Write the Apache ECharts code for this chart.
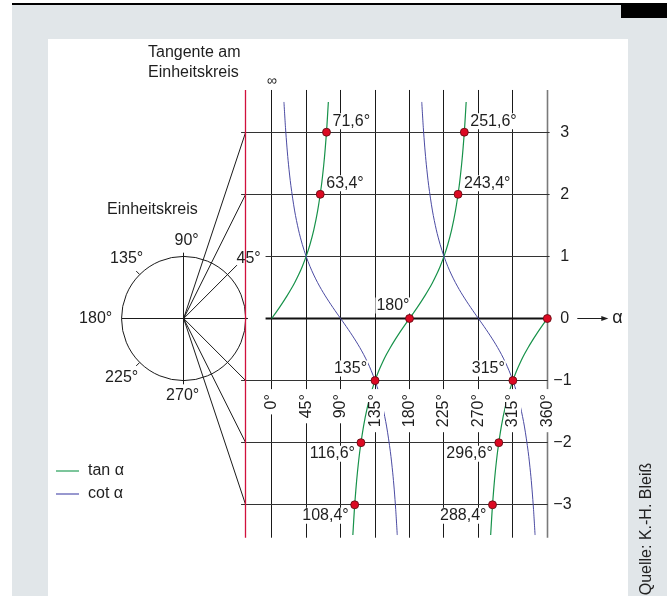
<!DOCTYPE html>
<html>
<head>
<meta charset="utf-8">
<script src="https://cdn.jsdelivr.net/npm/echarts@6/dist/echarts.min.js"></script>
<style>
html, body { margin: 0; padding: 0; background: #fff; }
#chart { width: 667px; height: 596px; }
</style>
</head>
<body>
<div id="chart"></div>
<script>
// Winkel der senkrechten Linien und Beschriftung
const angleTicks = [0, 45, 90, 135, 180, 225, 270, 315, 360];
const angleTickLabels = ['0°', '45°', '90°', '135°', '180°', '225°', '270°', '315°', '360°'];
// Funktionswerte (waagrechte Linien)
const levels = [3, 2, 1, 0, -1, -2, -3];
const levelLabels = ['3', '2', '1', '0', '−1', '−2', '−3'];
// markierte Punkte
const markAngles = [71.6, 251.6, 63.4, 243.4, 180, 360, 135, 315, 116.6, 296.6, 108.4, 288.4];
const markValues = [3, 3, 2, 2, 0, 0, -1, -1, -2, -2, -3, -3];
const markLabels = ['71,6°', '251,6°', '63,4°', '243,4°', '180°', '', '135°', '315°', '116,6°', '296,6°', '108,4°', '288,4°'];
// Einheitskreis
const circleAngles = [90, 135, 180, 225, 270, 45];
const circleLabels = ['90°', '135°', '180°', '225°', '270°', '45°'];

// Kurven
const tanBranch1 = [[0,0],[5,0.087],[10,0.176],[15,0.268],[20,0.364],[25,0.466],[30,0.577],[35,0.7],[40,0.839],[45,1],[50,1.192],[55,1.428],[60,1.732],[65,2.145],[68,2.475],[70,2.747],[72,3.078],[74,3.487]];
const tanBranch2 = [[106,-3.487],[108,-3.078],[110,-2.747],[112,-2.475],[115,-2.145],[120,-1.732],[125,-1.428],[130,-1.192],[135,-1],[140,-0.839],[145,-0.7],[150,-0.577],[155,-0.466],[160,-0.364],[165,-0.268],[170,-0.176],[175,-0.087],[180,0],[185,0.087],[190,0.176],[195,0.268],[200,0.364],[205,0.466],[210,0.577],[215,0.7],[220,0.839],[225,1],[230,1.192],[235,1.428],[240,1.732],[245,2.145],[248,2.475],[250,2.747],[252,3.078],[254,3.487]];
const tanBranch3 = [[286,-3.487],[288,-3.078],[290,-2.747],[292,-2.475],[295,-2.145],[300,-1.732],[305,-1.428],[310,-1.192],[315,-1],[320,-0.839],[325,-0.7],[330,-0.577],[335,-0.466],[340,-0.364],[345,-0.268],[350,-0.176],[355,-0.087],[360,0]];
const cotBranch1 = [[16,3.487],[18,3.078],[20,2.747],[22,2.475],[25,2.145],[30,1.732],[35,1.428],[40,1.192],[45,1],[50,0.839],[55,0.7],[60,0.577],[65,0.466],[70,0.364],[75,0.268],[80,0.176],[85,0.087],[90,0],[95,-0.087],[100,-0.176],[105,-0.268],[110,-0.364],[115,-0.466],[120,-0.577],[125,-0.7],[130,-0.839],[135,-1],[140,-1.192],[145,-1.428],[150,-1.732],[155,-2.145],[158,-2.475],[160,-2.747],[162,-3.078],[164,-3.487]];
const cotBranch2 = [[196,3.487],[198,3.078],[200,2.747],[202,2.475],[205,2.145],[210,1.732],[215,1.428],[220,1.192],[225,1],[230,0.839],[235,0.7],[240,0.577],[245,0.466],[250,0.364],[255,0.268],[260,0.176],[265,0.087],[270,0],[275,-0.087],[280,-0.176],[285,-0.268],[290,-0.364],[295,-0.466],[300,-0.577],[305,-0.7],[310,-0.839],[315,-1],[320,-1.192],[325,-1.428],[330,-1.732],[335,-2.145],[338,-2.475],[340,-2.747],[342,-3.078],[344,-3.487]];

const chart = echarts.init(document.getElementById('chart'));

const FONT = '"Liberation Sans", Arial, sans-serif';
const INK = '#1e1e1e';
const TAN_COLOR = '#17924a';
const COT_COLOR = '#4b4ba3';
const Y_TOP = 3.68, Y_BOT = -3.53;  // Enden der senkrechten Linien
const CX = -115;                     // Mittelpunkt des Einheitskreises
const TX = -34;                      // Tangente (CX + Radius)
const H_START = -40;

// Pixel auf halbe Pixel legen, damit 1px-Linien scharf bleiben
function snap(v) { return Math.round(v - 0.5) + 0.5; }

function segmentSeries(segs, stroke, width, z) {
    return {
        type: 'custom',
        silent: true,
        z: z,
        data: segs,
        renderItem: function (params, api) {
            const s = segs[params.dataIndex];
            const p1 = api.coord([s[0], s[1]]);
            const p2 = api.coord([s[2], s[3]]);
            if (p1[0] === p2[0]) { p1[0] = p2[0] = snap(p1[0]); }
            if (p1[1] === p2[1]) { p1[1] = p2[1] = snap(p1[1]); }
            return {
                type: 'line',
                shape: {x1: p1[0], y1: p1[1], x2: p2[0], y2: p2[1]},
                style: {stroke: stroke, lineWidth: width}
            };
        }
    };
}

function textSeries(items, z, build) {
    return {
        type: 'custom',
        silent: true,
        z: z,
        data: items,
        renderItem: function (params, api) {
            return build(params.dataIndex, api);
        }
    };
}

// senkrechte Linien
const verticalSegs = angleTicks.filter(a => a !== 360).map(a => [a, Y_TOP, a, Y_BOT]);
// waagrechte Linien
const levelSegs = [];
levels.forEach(l => {
    if (l === 0) return;
    const start = l === 1 ? -8 : H_START;
    const end = l < 0 ? 360.5 : 363;
    levelSegs.push([start, l, end, l]);
});
// Strahlen vom Kreismittelpunkt zur Tangente
const raySegs = levels.filter(l => l !== 0).map(l => {
    const f = l === 1 ? 0.86 : 1;
    return [CX, 0, CX + (TX - CX) * f, l * f];
});
raySegs.push([2 * CX - TX, 0, TX + 3, 0]);
raySegs.push([CX, 1.06, CX, -1.06]);

const markData = markAngles.map((a, i) => {
    const v = markValues[i];
    let pos;
    if (v > 0) pos = {align: 'left', offset: [5, -11]};
    else if (v === 0) pos = {align: 'right', offset: [1, -13]};
    else if (v === -1) pos = {align: 'right', offset: [-7, -12]};
    else pos = {align: 'right', offset: [-5, 11]};
    return {
        value: [a, v],
        label: Object.assign({show: markLabels[i] !== '', formatter: markLabels[i]}, pos)
    };
});

const circleLabelOffsets = {
    90: [3, -78], 135: [-57, -60], 180: [-88, 0], 225: [-62, 59], 270: [-1, 77], 45: [65, -60]
};

const option = {
    backgroundColor: '#fff',
    animation: false,
    textStyle: {fontFamily: FONT},
    grid: {left: 42, right: 27.8, top: 39.05, bottom: 29.1},
    xAxis: {type: 'value', min: -300, max: 480, show: false},
    yAxis: {type: 'value', min: -4, max: 4.5, show: false},
    legend: {
        orient: 'vertical',
        left: 56,
        top: 463,
        padding: 0,
        icon: 'rect',
        itemWidth: 23,
        itemHeight: 2,
        itemGap: 7,
        selectedMode: false,
        textStyle: {fontSize: 16, color: INK, fontFamily: FONT, padding: [0, 0, 0, 4]},
        data: [
            {name: 'tan α', itemStyle: {color: '#7cc59b'}},
            {name: 'cot α', itemStyle: {color: '#9898cf'}}
        ]
    },
    graphic: [
        {type: 'rect', z: -5, silent: true, shape: {x: 12, y: 5, width: 655, height: 591}, style: {fill: '#e1e6e9'}},
        {type: 'rect', z: -4, silent: true, shape: {x: 48, y: 39, width: 580, height: 557}, style: {fill: '#fff'}},
        {type: 'rect', z: -4, silent: true, shape: {x: 12, y: 3, width: 655, height: 2}, style: {fill: '#000'}},
        {type: 'rect', z: -4, silent: true, shape: {x: 621, y: 5, width: 46, height: 13}, style: {fill: '#000'}},
        {type: 'text', z: 10, silent: true, x: 148, y: 43,
            style: {text: 'Tangente am\nEinheitskreis', font: '16px ' + FONT, fill: INK, lineHeight: 20}},
        {type: 'text', z: 10, silent: true, x: 107, y: 210,
            style: {text: 'Einheitskreis', font: '16px ' + FONT, fill: INK, verticalAlign: 'middle'}},
        {type: 'text', z: 10, silent: true, x: 647, y: 529, rotation: Math.PI / 2,
            style: {text: 'Quelle: K.-H. Bleiß', font: '16px ' + FONT, fill: '#222', align: 'center', verticalAlign: 'middle'}}
    ],
    series: [
        segmentSeries(verticalSegs, '#1a1a1a', 1, 2),
        segmentSeries([[360, Y_TOP, 360, Y_BOT]], '#7a7a7a', 1.6, 2),
        segmentSeries(levelSegs, '#333', 1, 2),
        segmentSeries([[-8, 0, 360, 0]], '#111', 2, 2),
        segmentSeries(raySegs, '#1a1a1a', 1, 2),
        segmentSeries([[TX, Y_TOP, TX, Y_BOT]], '#d1113c', 1.3, 3),
        // Einheitskreis mit Markierungen bei 135° und 225°
        {
            type: 'custom', silent: true, z: 2,
            data: [[CX, 0]],
            renderItem: function (params, api) {
                const c = api.coord([CX, 0]);
                const r = api.size([0, 1])[1];
                const children = [{
                    type: 'circle',
                    shape: {cx: c[0], cy: c[1], r: r},
                    style: {fill: null, stroke: '#1a1a1a', lineWidth: 1}
                }];
                [135, 225].forEach(deg => {
                    const t = deg * Math.PI / 180;
                    children.push({
                        type: 'line',
                        shape: {
                            x1: c[0] + r * Math.cos(t), y1: c[1] - r * Math.sin(t),
                            x2: c[0] + (r + 5) * Math.cos(t), y2: c[1] - (r + 5) * Math.sin(t)
                        },
                        style: {stroke: '#1a1a1a', lineWidth: 1}
                    });
                });
                return {type: 'group', children: children};
            }
        },
        // Kurven
        {name: 'tan α', type: 'line', data: tanBranch1, smooth: 0.3, showSymbol: false, z: 3, lineStyle: {color: TAN_COLOR, width: 1.2}, itemStyle: {color: TAN_COLOR}},
        {name: 'tan α', type: 'line', data: tanBranch2, smooth: 0.3, showSymbol: false, z: 3, lineStyle: {color: TAN_COLOR, width: 1.2}, itemStyle: {color: TAN_COLOR}},
        {name: 'tan α', type: 'line', data: tanBranch3, smooth: 0.3, showSymbol: false, z: 3, lineStyle: {color: TAN_COLOR, width: 1.2}, itemStyle: {color: TAN_COLOR}},
        {name: 'cot α', type: 'line', data: cotBranch1, smooth: 0.3, showSymbol: false, z: 3, lineStyle: {color: COT_COLOR, width: 1}, itemStyle: {color: COT_COLOR}},
        {name: 'cot α', type: 'line', data: cotBranch2, smooth: 0.3, showSymbol: false, z: 3, lineStyle: {color: COT_COLOR, width: 1}, itemStyle: {color: COT_COLOR}},
        // Winkelbeschriftung unten (weißer Hintergrund unterbricht die Linien)
        textSeries(angleTicks, 4, function (i, api) {
            const p = api.coord([angleTicks[i], -1]);
            return {
                type: 'text', x: snap(p[0]) + 0.5, y: p[1] + 8.5, rotation: Math.PI / 2,
                style: {text: angleTickLabels[i], font: '16px ' + FONT, fill: INK, align: 'right',
                    verticalAlign: 'middle', backgroundColor: '#fff', padding: [0, 5]}
            };
        }),
        // Werte rechts
        textSeries(levels, 4, function (i, api) {
            const p = api.coord([360, levels[i]]);
            return {
                type: 'text', x: p[0] + (levels[i] < 0 ? 6 : 13), y: p[1],
                style: {text: levelLabels[i], font: '16px ' + FONT, fill: INK, align: 'left', verticalAlign: 'middle'}
            };
        }),
        // Pfeil α und ∞
        {
            type: 'custom', silent: true, z: 4,
            data: [[360, 0]],
            renderItem: function (params, api) {
                const p = api.coord([360, 0]);
                const y = snap(p[1]);
                const top = api.coord([0, Y_TOP]);
                return {
                    type: 'group',
                    children: [
                        {type: 'line', shape: {x1: p[0] + 30, y1: y, x2: p[0] + 57, y2: y}, style: {stroke: INK, lineWidth: 1}},
                        {type: 'polygon', shape: {points: [[p[0] + 61, y], [p[0] + 54, y - 2.5], [p[0] + 54, y + 2.5]]}, style: {fill: INK}},
                        {type: 'text', x: p[0] + 65, y: p[1], style: {text: 'α', font: '18px ' + FONT, fill: INK, verticalAlign: 'middle'}},
                        {type: 'text', x: top[0], y: top[1] - 9, style: {text: '∞', font: '14px ' + FONT, fill: INK, align: 'center', verticalAlign: 'middle'}}
                    ]
                };
            }
        },
        // Beschriftung am Einheitskreis
        textSeries(circleAngles, 4, function (i, api) {
            const c = api.coord([CX, 0]);
            const o = circleLabelOffsets[circleAngles[i]];
            return {
                type: 'text', x: c[0] + o[0], y: c[1] + o[1],
                style: {text: circleLabels[i], font: '16px ' + FONT, fill: INK, align: 'center', verticalAlign: 'middle'}
            };
        }),
        // markierte Punkte
        {
            type: 'scatter',
            z: 5,
            symbolSize: 8,
            data: markData,
            itemStyle: {color: '#dc0a23', borderColor: '#5a0a10', borderWidth: 0.8, opacity: 1},
            label: {
                position: 'inside',
                verticalAlign: 'middle',
                fontSize: 16,
                fontFamily: FONT,
                color: INK,
                opacity: 1,
                backgroundColor: '#fff',
                padding: [0, 1]
            }
        }
    ]
};

chart.setOption(option);
</script>
</body>
</html>
